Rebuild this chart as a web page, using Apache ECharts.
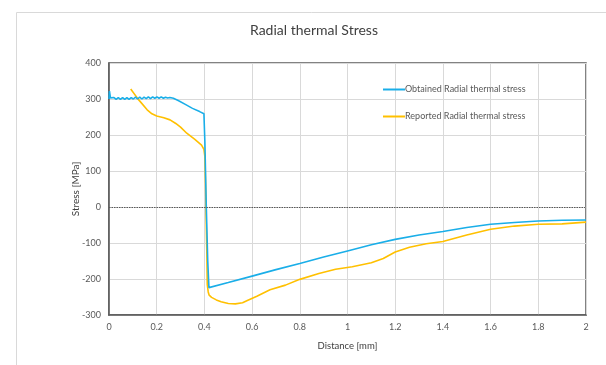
<!DOCTYPE html>
<html>
<head>
<meta charset="utf-8">
<script src="https://cdn.jsdelivr.net/npm/echarts@6/dist/echarts.min.js"></script>
<style>
html,body{margin:0;padding:0;background:#fff;}
#chart{width:606px;height:365px;}
</style>
</head>
<body>
<div id="chart"></div>
<script>
const titleText = 'Radial thermal Stress';
const xAxisName = 'Distance [mm]';
const yAxisName = 'Stress [MPa]';
const seriesNames = ['Obtained Radial thermal stress', 'Reported Radial thermal stress'];

const obtainedX = [0, 0.002, 0.006, 0.012, 0.021, 0.030, 0.039, 0.048, 0.057, 0.066, 0.075, 0.084, 0.093, 0.102, 0.111, 0.120, 0.129, 0.138, 0.147, 0.156, 0.165, 0.174, 0.183, 0.192, 0.201, 0.210, 0.219, 0.228, 0.237, 0.246, 0.255, 0.27, 0.29, 0.32, 0.35, 0.38, 0.398, 0.402, 0.408, 0.414, 0.419, 0.5, 0.6, 0.7, 0.8, 0.9, 1.0, 1.1, 1.2, 1.3, 1.4, 1.5, 1.6, 1.7, 1.8, 1.9, 2.0];
const obtainedY = [300, 322, 303, 299, 304, 299, 304, 299, 304, 299, 304, 299, 304, 300, 305, 300, 305, 300, 305, 301, 306, 301, 306, 302, 306, 302, 306, 302, 305, 303, 304, 302, 296, 285, 274, 265, 259, 180, 0, -150, -224, -210, -192, -174, -157, -139, -122, -105, -90, -78, -68, -57, -48, -43, -39, -37, -36];

const reportedX = [0.091, 0.123, 0.16, 0.18, 0.2, 0.23, 0.256, 0.28, 0.3, 0.326, 0.36, 0.388, 0.398, 0.402, 0.405, 0.407, 0.41, 0.412, 0.416, 0.42, 0.43, 0.45, 0.47, 0.5, 0.53, 0.56, 0.58, 0.62, 0.675, 0.74, 0.8, 0.88, 0.95, 1.02, 1.1, 1.15, 1.2, 1.26, 1.33, 1.4, 1.5, 1.6, 1.7, 1.8, 1.9, 2.0];
const reportedY = [328, 299, 270, 259, 253, 248, 242, 232, 222, 205, 188, 172, 160, 140, 60, -20, -120, -215, -236, -245, -251, -258, -263, -268, -269, -266, -260, -248, -230, -217, -201, -185, -173, -166, -155, -143, -125, -112, -102, -96, -78, -62, -53, -48, -47, -42];

const xTicks = [0, 0.2, 0.4, 0.6, 0.8, 1, 1.2, 1.4, 1.6, 1.8, 2];
const yTicks = [-300, -200, -100, 0, 100, 200, 300, 400];

function pairs(xs, ys) { return xs.map((x, i) => [x, ys[i]]); }

const chart = echarts.init(document.getElementById('chart'), null, {renderer: 'canvas'});
const fontFamily = 'Lato, "Open Sans", sans-serif';
chart.setOption({
  animation: false,
  textStyle: {fontFamily: fontFamily},
  graphic: [{
    type: 'rect', silent: true, z: -10,
    shape: {x: 16.5, y: 12.5, width: 700, height: 500},
    style: {fill: 'none', stroke: '#d9d9d9', lineWidth: 1}
  }],
  title: {
    text: titleText, left: 245, top: 18,
    textStyle: {fontSize: 14, fontWeight: 'normal', color: '#404040', fontFamily: fontFamily}
  },
  legend: {
    orient: 'vertical', left: 378, top: 80, itemGap: 18,
    itemWidth: 22, itemHeight: 2, icon: 'rect',
    textStyle: {fontSize: 9, color: '#595959', fontFamily: fontFamily, padding: [0, 0, 0, -5]},
    data: seriesNames
  },
  grid: {
    left: 109, right: 20, top: 63, bottom: 50,
    show: true, borderColor: '#595959', borderWidth: 1.5, containLabel: false
  },
  xAxis: {
    type: 'value', min: 0, max: 2, interval: 0.2,
    name: xAxisName, nameLocation: 'middle', nameGap: 26, nameMoveOverlap: false,
    nameTextStyle: {fontSize: 9.5, color: '#404040', fontFamily: fontFamily},
    axisLine: {show: true, onZero: false, lineStyle: {color: '#595959', width: 1.5}},
    axisTick: {show: false},
    axisLabel: {fontSize: 9, color: '#595959', margin: 8, fontFamily: fontFamily,
      formatter: v => String(Math.round(v * 10) / 10)},
    splitLine: {show: true, lineStyle: {color: '#d9d9d9', width: 1}}
  },
  yAxis: {
    type: 'value', min: -300, max: 400, interval: 100,
    name: yAxisName, nameLocation: 'middle', nameGap: 28, nameRotate: 90, nameMoveOverlap: false,
    nameTextStyle: {fontSize: 10, color: '#404040', fontFamily: fontFamily},
    axisLine: {show: true, lineStyle: {color: '#595959', width: 1.5}},
    axisTick: {show: false},
    axisLabel: {fontSize: 9, color: '#595959', margin: 8, fontFamily: fontFamily},
    splitLine: {show: true, lineStyle: {color: '#d9d9d9', width: 1}}
  },
  series: [
    {
      name: seriesNames[0], type: 'line', data: pairs(obtainedX, obtainedY),
      symbol: 'none', smooth: false,
      lineStyle: {color: '#1aaee8', width: 1.6}, itemStyle: {color: '#1aaee8'},
      z: 3,
      markLine: {
        silent: true, symbol: 'none', label: {show: false},
        lineStyle: {color: '#595959', type: [1.5, 1], width: 1.2},
        data: [{yAxis: 0}]
      }
    },
    {
      name: seriesNames[1], type: 'line', data: pairs(reportedX, reportedY),
      symbol: 'none', smooth: false,
      lineStyle: {color: '#ffc000', width: 1.6}, itemStyle: {color: '#ffc000'},
      z: 2
    }
  ]
});
</script>
</body>
</html>
